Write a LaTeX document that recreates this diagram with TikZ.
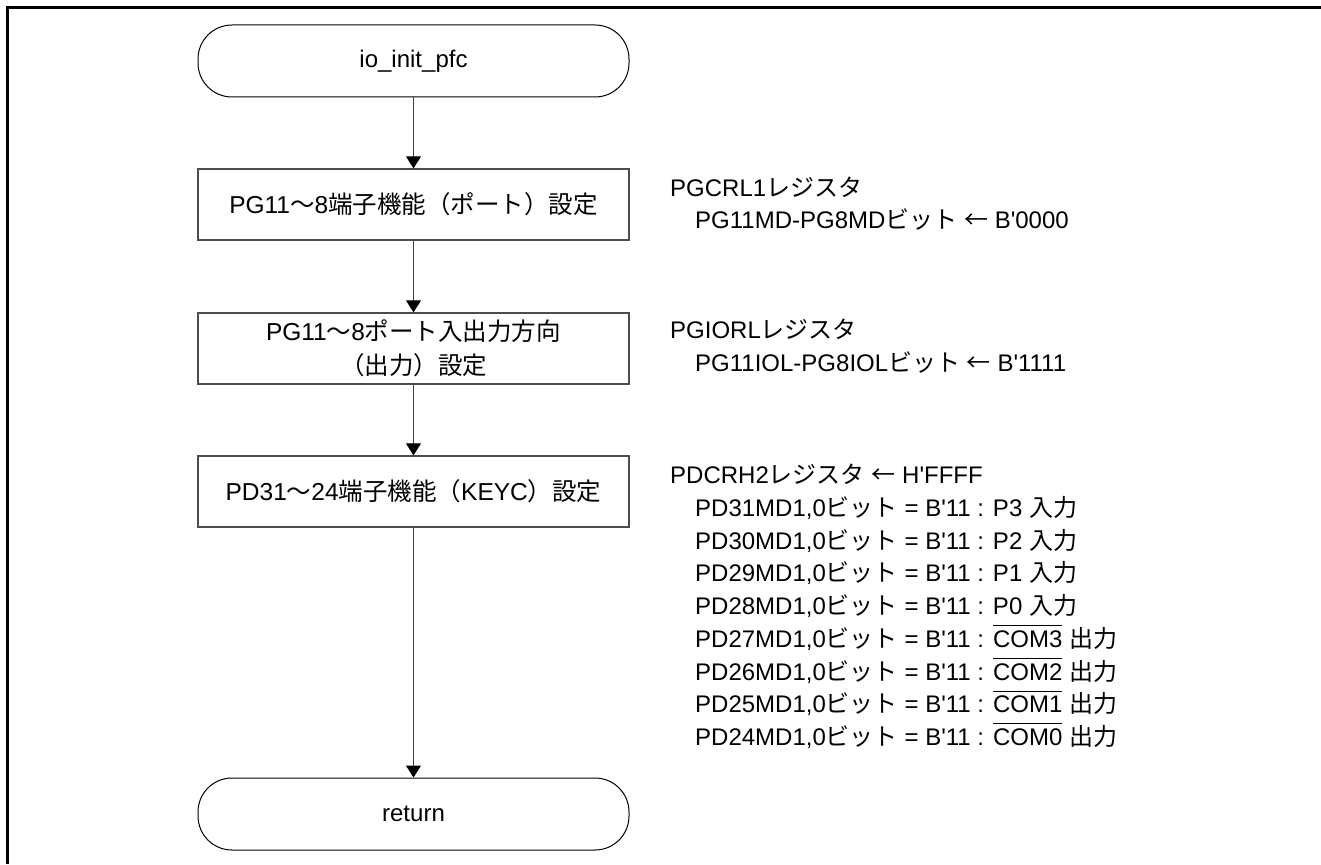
\documentclass[tikz,border=0pt]{standalone}
\usepackage{fontspec}
\setmainfont{Liberation Sans}
\newfontfamily\jp{Noto Sans CJK JP}
\usetikzlibrary{arrows.meta}
\newcommand\q{\textquotesingle}
\newcommand\ovl[1]{\setbox0\hbox{#1}\rlap{\rule[0.88em]{\wd0}{1pt}}\box0\relax}
\newcommand\ind{\hspace*{25pt}}
\newcommand\la{{\jp ←}}
\begin{document}
\begin{tikzpicture}[x=1pt,y=-1pt,
  every node/.style={font=\fontsize{24}{32}\selectfont},
  term/.style={draw=black, line width=1pt, rounded corners=34pt, minimum width=431pt, minimum height=72pt, inner sep=0pt},
  proc/.style={draw=black!70, line width=1.3pt, minimum width=431pt, minimum height=71pt, inner sep=0pt, align=center},
  note/.style={anchor=base west, inner sep=0pt, align=left},
  flow/.style={draw=black!75, line width=1pt, -{Triangle[length=12pt,width=15pt,color=black]}}
]
\useasboundingbox (0,0) rectangle (1321,864);
\draw[line width=3pt] (1321,7.5) -- (7.5,7.5) -- (7.5,864);

\node[term] (start) at (413.5,61) {io\_init\_pfc};
\node[proc, font=\fontsize{24.5}{32}\selectfont] (b1) at (413.5,204.5) {PG11{\jp ～}8{\jp 端子機能（ポート）設定}};
\node[proc, font=\fontsize{24.5}{34}\selectfont] (b2) at (413.5,348.5) {PG11{\jp ～}8{\jp ポート入出力方向}\\{\jp （出力）設定}};
\node[proc, font=\fontsize{24.5}{32}\selectfont] (b3) at (413.5,491.5) {PD31{\jp ～}24{\jp 端子機能（}KEYC{\jp ）設定}};
\node[term] (ret) at (413.5,814) {return};

\draw[flow] (start.south) -- (b1.north);
\draw[flow] (b1.south) -- (b2.north);
\draw[flow] (b2.south) -- (b3.north);
\draw[flow] (b3.south) -- (ret.north);

\node[note, font=\fontsize{24}{32}\selectfont] (n1) at (670,228.6) {PGCRL1{\jp レジスタ}\\\ind PG11MD-PG8MD{\jp ビット} \la{} B\q 0000};
\node[note, font=\fontsize{24}{33}\selectfont] (n2) at (670,371.6) {PGIORL{\jp レジスタ}\\\ind PG11IOL-PG8IOL{\jp ビット} \la{} B\q 1111};
\node[note, font=\fontsize{24}{32.75}\selectfont] (n3) at (670,745.6) {PDCRH2{\jp レジスタ} \la{} H\q FFFF\\
\ind PD31MD1,0{\jp ビット} = B\q 11 : P3 {\jp 入力}\\
\ind PD30MD1,0{\jp ビット} = B\q 11 : P2 {\jp 入力}\\
\ind PD29MD1,0{\jp ビット} = B\q 11 : P1 {\jp 入力}\\
\ind PD28MD1,0{\jp ビット} = B\q 11 : P0 {\jp 入力}\\
\ind PD27MD1,0{\jp ビット} = B\q 11 : \ovl{COM3} {\jp 出力}\\
\ind PD26MD1,0{\jp ビット} = B\q 11 : \ovl{COM2} {\jp 出力}\\
\ind PD25MD1,0{\jp ビット} = B\q 11 : \ovl{COM1} {\jp 出力}\\
\ind PD24MD1,0{\jp ビット} = B\q 11 : \ovl{COM0} {\jp 出力}};
\end{tikzpicture}
\end{document}
